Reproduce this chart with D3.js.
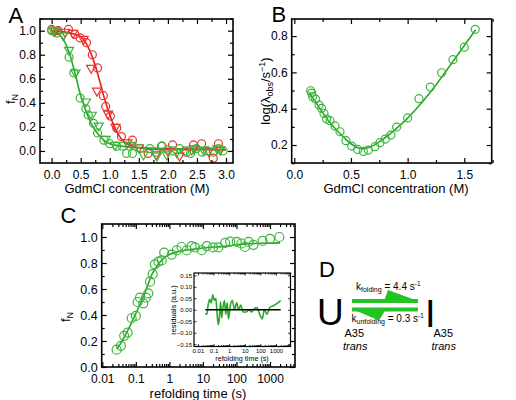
<!DOCTYPE html>
<html><head><meta charset="utf-8">
<script src="https://cdn.jsdelivr.net/npm/d3@7"></script>
<style>
body{margin:0;background:#fff;}
svg{display:block;font-family:"Liberation Sans",Arial,sans-serif;}
</style></head>
<body><svg id="c" width="516" height="400"></svg>
<script>
// ---------- Panel A data ----------
const aRedCircles = [[0,1.01],[0.11,1.0],[0.29,1.01],[0.4,0.97],[0.49,0.94],[0.6,0.9],[0.7,0.8],[0.79,0.69],[0.89,0.46],[0.93,0.37],[1.01,0.29],[1.12,0.19],[1.2,0.12],[1.39,0.09],[1.66,-0.02],[1.89,0.04],[2.08,0.05],[2.32,-0.01],[2.44,0.05],[2.58,0.06],[2.78,-0.06],[2.87,0.06]];
const aRedTriangles = [[0.06,1.0],[0.23,0.99],[0.37,0.98],[0.55,0.93],[0.68,0.69],[0.78,0.5],[0.97,0.31],[1.1,0.2],[1.3,0.07],[1.5,0.03],[1.8,-0.03],[2.0,0.0],[2.2,-0.04],[2.45,0.02],[2.7,0.0],[2.9,0.01]];
const aGreenCircles = [[0,1.0],[0.09,0.98],[0.3,0.78],[0.38,0.65],[0.49,0.44],[0.59,0.35],[0.63,0.3],[0.72,0.23],[0.79,0.15],[0.9,0.09],[1.0,0.06],[1.12,0.04],[1.22,0.04],[1.29,-0.02],[1.39,-0.02],[1.52,0.02],[1.69,0.02],[1.79,-0.01],[1.9,0.04],[2.0,0.01],[2.09,0.0],[2.2,0.02],[2.29,0.0],[2.39,-0.02],[2.49,0.02],[2.59,-0.01],[2.68,0.0],[2.78,-0.01],[2.87,0.02],[2.95,0.0]];
const aGreenTriangles = [[0.03,1.0],[0.2,0.96],[0.3,0.84],[0.41,0.65],[0.59,0.41],[0.69,0.3],[0.81,0.21],[0.93,0.1],[1.09,0.05],[1.38,0.05],[1.58,-0.03],[1.81,-0.04],[1.98,-0.03],[2.15,-0.01],[2.41,0.01],[2.61,0.01],[2.85,0.02]];
const aRedFit = [[0,1.0],[0.2,0.99],[0.4,0.97],[0.5,0.95],[0.6,0.89],[0.7,0.78],[0.8,0.63],[0.9,0.45],[1.0,0.3],[1.1,0.18],[1.2,0.1],[1.3,0.06],[1.4,0.04],[1.6,0.02],[2.0,0.01],[2.5,0.01],[3.0,0.01]];
const aGreenFit = [[0,1.0],[0.1,0.98],[0.2,0.93],[0.3,0.82],[0.4,0.65],[0.5,0.46],[0.6,0.32],[0.7,0.21],[0.8,0.14],[0.9,0.09],[1.0,0.06],[1.2,0.04],[1.4,0.03],[2.0,0.02],[3.0,0.01]];
const aXTicks = [0,0.5,1,1.5,2,2.5,3];
const aYTicks = [0,0.2,0.4,0.6,0.8,1.0];

// ---------- Panel B data ----------
const bPoints = [[0.144,0.499],[0.153,0.486],[0.162,0.466],[0.188,0.453],[0.218,0.42],[0.241,0.402],[0.262,0.374],[0.285,0.343],[0.315,0.334],[0.359,0.305],[0.403,0.273],[0.456,0.224],[0.506,0.194],[0.559,0.176],[0.609,0.165],[0.653,0.172],[0.712,0.191],[0.756,0.213],[0.803,0.233],[0.853,0.255],[0.903,0.299],[1.0,0.349],[1.1,0.455],[1.2,0.519],[1.3,0.598],[1.4,0.67],[1.5,0.739],[1.597,0.837]];
const bFit = [[0.13,0.49],[0.2,0.425],[0.3,0.335],[0.4,0.265],[0.5,0.207],[0.55,0.188],[0.6,0.18],[0.65,0.185],[0.7,0.198],[0.8,0.24],[0.9,0.29],[1.0,0.348],[1.2,0.49],[1.4,0.66],[1.6,0.835]];
const bXTicks = [0,0.5,1,1.5];
const bYTicks = [0.2,0.4,0.6,0.8];

// ---------- Panel C data ----------
const cPoints = [[0.0267,0.133],[0.036,0.163],[0.045,0.24],[0.057,0.265],[0.075,0.375],[0.1,0.393],[0.113,0.5],[0.133,0.533],[0.167,0.49],[0.2,0.533],[0.235,0.566],[0.264,0.656],[0.316,0.714],[0.37,0.79],[0.47,0.81],[0.59,0.82],[0.7,0.88],[1.17,0.865],[1.66,0.898],[2.3,0.923],[3.3,0.898],[4.6,0.93],[5.8,0.92],[9.2,0.898],[13,0.93],[20,0.92],[29,0.92],[46,0.955],[65,0.965],[102,0.962],[140,0.95],[180,0.923],[230,0.962],[320,0.94],[600,0.97],[1000,0.985],[1900,1.0]];
const cFit = [[0.028,0.14],[0.05,0.25],[0.1,0.41],[0.2,0.59],[0.3,0.71],[0.5,0.8],[0.7,0.84],[1,0.865],[2,0.89],[5,0.905],[10,0.915],[50,0.93],[100,0.94],[500,0.952],[2000,0.955]];
const cXTicks = [0.01,0.1,1,10,100,1000];
const cXLabels = ["0.01","0.1","1","10","100","1000"];
const cYTicks = [0,0.2,0.4,0.6,0.8,1.0];
const residuals = [[0.03,-0.015],[0.037,-0.02],[0.045,0.02],[0.056,0.045],[0.07,0.03],[0.09,0.065],[0.11,0.04],[0.14,0.05],[0.17,-0.02],[0.2,-0.065],[0.24,-0.03],[0.28,0.035],[0.33,-0.035],[0.4,0.01],[0.5,0.04],[0.6,-0.02],[0.75,0.03],[0.9,-0.04],[1.2,0.02],[1.6,0.04],[2.2,0.0],[3,0.03],[4,0.0],[5.5,0.02],[8,-0.01],[12,-0.01],[18,0.0],[28,-0.01],[40,0.005],[60,0.01],[90,-0.02],[130,-0.04],[180,0.0],[260,-0.02],[400,0.01],[800,0.02],[2000,0.04]];
const insetXTicks = [0.01,0.1,1,10,100,1000];
const insetXLabels = ["0.01","0.1","1","10","100","1000"];
const insetYTicks = [-0.15,-0.10,-0.05,0,0.05,0.10,0.15];

// ---------- styles ----------
const RED = "#e8322a", RED_LINE = "#e02424";
const GREEN = "#3cb43c", GREEN_LINE = "#2aa82a", ARROW = "#22c322";

const svg = d3.select("#c");

function frame(g, x, y, opts){
  const [x0,x1] = x.range(), [y0,y1] = y.range();
  const fs = opts.fs || 12;
  const tl = opts.tl || 5, tm = opts.tm || 3;
  const bot = d3.axisBottom(x).tickValues(opts.xt).tickSizeInner(-tl).tickSizeOuter(0).tickPadding(opts.xpad||8)
    .tickFormat((d,i)=>opts.xl ? opts.xl[i] : d3.format(opts.xf||".1f")(d));
  const gb = g.append("g").attr("transform",`translate(0,${y0})`).call(bot);
  gb.selectAll("text").attr("font-size",fs).attr("fill","#000").attr("font-family",'"Liberation Sans",Arial,sans-serif');
  const top = d3.axisTop(x).tickValues(opts.xt).tickSizeInner(-tl).tickSizeOuter(0).tickFormat("");
  g.append("g").attr("transform",`translate(0,${y1})`).call(top);
  const left = d3.axisLeft(y).tickValues(opts.yt).tickSizeInner(-tl).tickSizeOuter(0).tickPadding(opts.ypad||4)
    .tickFormat(d=>d3.format(opts.yf||".1f")(d));
  const gl = g.append("g").attr("transform",`translate(${x0},0)`).call(left);
  gl.selectAll("text").attr("font-size",opts.yfs||fs).attr("fill","#000").attr("font-family",'"Liberation Sans",Arial,sans-serif');
  const right = d3.axisRight(y).tickValues(opts.yt).tickSizeInner(-tl).tickSizeOuter(0).tickFormat("");
  g.append("g").attr("transform",`translate(${x1},0)`).call(right);
  if(opts.xm){
    g.append("g").attr("transform",`translate(0,${y0})`).call(d3.axisBottom(x).tickValues(opts.xm).tickSizeInner(-tm).tickSizeOuter(0).tickFormat(""));
    g.append("g").attr("transform",`translate(0,${y1})`).call(d3.axisTop(x).tickValues(opts.xm).tickSizeInner(-tm).tickSizeOuter(0).tickFormat(""));
  }
  if(opts.ym){
    g.append("g").attr("transform",`translate(${x0},0)`).call(d3.axisLeft(y).tickValues(opts.ym).tickSizeInner(-tm).tickSizeOuter(0).tickFormat(""));
    g.append("g").attr("transform",`translate(${x1},0)`).call(d3.axisRight(y).tickValues(opts.ym).tickSizeInner(-tm).tickSizeOuter(0).tickFormat(""));
  }
  g.selectAll(".domain").remove();
  g.selectAll(".tick line").attr("stroke","#000").attr("stroke-width",opts.tw||1.2);
  g.append("rect").attr("x",x0).attr("y",y1).attr("width",x1-x0).attr("height",y0-y1)
    .attr("fill","none").attr("stroke","#000").attr("stroke-width",opts.fw||1.6);
}

function circles(g, data, x, y, color, r){
  g.append("g").selectAll("circle").data(data).join("circle")
    .attr("cx",d=>x(d[0])).attr("cy",d=>y(d[1])).attr("r",r)
    .attr("fill","none").attr("stroke",color).attr("stroke-width",1.2);
}
function triangles(g, data, x, y, color, size){
  const sym = d3.symbol(d3.symbolTriangle).size(size);
  g.append("g").selectAll("path").data(data).join("path")
    .attr("d",sym).attr("transform",d=>`translate(${x(d[0])},${y(d[1])}) rotate(180)`)
    .attr("fill","none").attr("stroke",color).attr("stroke-width",1.2);
}
function fitLine(g, data, x, y, color, w){
  const line = d3.line().x(d=>x(d[0])).y(d=>y(d[1])).curve(d3.curveMonotoneX);
  g.append("path").datum(data).attr("d",line).attr("fill","none").attr("stroke",color).attr("stroke-width",w||1.6);
}
function range(a,b,s){const r=[];for(let v=a;v<=b+1e-9;v+=s)r.push(+v.toFixed(4));return r;}
function logMinor(a,b){const r=[];for(let e=a;e<b;e++)for(let k=2;k<=9;k++)r.push(k*Math.pow(10,e));return r;}

// ---------- Panel A ----------
{
  const x = d3.scaleLinear().domain([-0.2,3.12]).range([40,233]);
  const y = d3.scaleLinear().domain([-0.1,1.097]).range([163,19]);
  const g = svg.append("g");
  fitLine(g, aRedFit, x, y, RED_LINE);
  fitLine(g, aGreenFit, x, y, GREEN_LINE);
  circles(g, aRedCircles, x, y, RED, 4);
  triangles(g, aRedTriangles, x, y, RED, 36);
  circles(g, aGreenCircles, x, y, GREEN, 4);
  triangles(g, aGreenTriangles, x, y, GREEN, 36);
  frame(g, x, y, {xt:aXTicks, yt:aYTicks, xm:range(0.25,2.75,0.5), ym:range(-0.1,1.1,0.2).filter(v=>v>-0.1), xpad:7, ypad:4});
  g.append("text").attr("x",8.5).attr("y",23).attr("font-size",22).text("A");
  g.append("text").attr("x",137).attr("y",193).attr("font-size",13).attr("text-anchor","middle").text("GdmCl concentration (M)");
  const t = g.append("text").attr("transform","translate(15,99) rotate(-90)").attr("font-size",13).attr("text-anchor","middle");
  t.append("tspan").text("f");
  t.append("tspan").attr("font-size",9).attr("dy",3).text("N");
}

// ---------- Panel B ----------
{
  const x = d3.scaleLinear().domain([-0.023,1.742]).range([291.7,491.7]);
  const y = d3.scaleLinear().domain([0.101,0.894]).range([163,19]);
  const g = svg.append("g");
  fitLine(g, bFit, x, y, GREEN_LINE);
  circles(g, bPoints, x, y, GREEN, 4);
  frame(g, x, y, {xt:bXTicks, yt:bYTicks, xm:range(0.25,1.75,0.5), ym:range(0.1,0.9,0.2).filter(v=>v<0.895), xpad:7, ypad:4});
  g.append("text").attr("x",271.5).attr("y",21.7).attr("font-size",22).text("B");
  g.append("text").attr("x",396).attr("y",193).attr("font-size",13).attr("text-anchor","middle").text("GdmCl concentration (M)");
  const t = g.append("text").attr("transform","translate(270,91) rotate(-90)").attr("font-size",13).attr("text-anchor","middle");
  t.append("tspan").text("log(λ");
  t.append("tspan").attr("font-size",9).attr("dy",3).text("obs");
  t.append("tspan").attr("dy",-3).text("/s");
  t.append("tspan").attr("font-size",9).attr("dy",-5).text("−1");
  t.append("tspan").attr("dy",5).text(")");
}

// ---------- Panel C ----------
{
  const x = d3.scaleLog().domain([0.0096,5560]).range([101.7,295]);
  const y = d3.scaleLinear().domain([0,1.1]).range([367,224]);
  const g = svg.append("g");
  fitLine(g, cFit, x, y, GREEN_LINE);
  circles(g, cPoints, x, y, GREEN, 4.5);
  frame(g, x, y, {xt:cXTicks, xl:cXLabels, yt:cYTicks, xm:logMinor(-2,4).filter(v=>v<5560), ym:range(0.1,1.1,0.2).filter(v=>v<1.1), fs:12, yfs:12.5, xpad:7, ypad:4});
  g.append("text").attr("x",60.5).attr("y",222.7).attr("font-size",22).text("C");
  g.append("text").attr("x",198).attr("y",398).attr("font-size",13).attr("text-anchor","middle").text("refolding time (s)");
  const t = g.append("text").attr("transform","translate(70,317) rotate(-90)").attr("font-size",13).attr("text-anchor","middle");
  t.append("tspan").text("f");
  t.append("tspan").attr("font-size",9).attr("dy",3).text("N");

  // inset
  const xi = d3.scaleLog().domain([0.0056,8500]).range([194,290.5]);
  const yi = d3.scaleLinear().domain([-0.16,0.16]).range([346.5,273]);
  const gi = svg.append("g");
  gi.append("rect").attr("x",194).attr("y",273).attr("width",96.5).attr("height",73.5).attr("fill","#fff");
  fitLine(gi, residuals, xi, yi, GREEN_LINE, 1.6);
  gi.append("line").attr("x1",xi(0.03)).attr("x2",xi(2000)).attr("y1",yi(0)).attr("y2",yi(0)).attr("stroke","#000").attr("stroke-width",1.6);
  frame(gi, xi, yi, {xt:insetXTicks, xl:insetXLabels, yt:insetYTicks, yf:".2f", xm:logMinor(-2,4).filter(v=>v<8500), fs:6, tl:2.5, tm:1.5, xpad:2, ypad:2, tw:0.8, fw:1.2});
  gi.append("text").attr("x",242).attr("y",361).attr("font-size",7.2).attr("text-anchor","middle").text("refolding time (s)");
  gi.append("text").attr("transform","translate(176,310) rotate(-90)").attr("font-size",7.5).attr("text-anchor","middle").text("residuals (a.u.)");
}

// ---------- Panel D ----------
{
  const g = svg.append("g");
  g.append("text").attr("x",319).attr("y",276.7).attr("font-size",22).text("D");
  g.append("text").attr("x",317).attr("y",325).attr("font-size",37).text("U");
  g.append("text").attr("x",425).attr("y",326.5).attr("font-size",38).text("I");
  g.append("rect").attr("x",352).attr("y",299).attr("width",66).attr("height",4).attr("fill",ARROW);
  g.append("path").attr("d","M388,290 L418,301 L384,301 Z").attr("fill",ARROW);
  g.append("rect").attr("x",352).attr("y",307.5).attr("width",66).attr("height",4).attr("fill",ARROW);
  g.append("path").attr("d","M352,309 L379,320.5 L386,309 Z").attr("fill",ARROW);
  const k1 = g.append("text").attr("x",356).attr("y",290).attr("font-size",10);
  k1.append("tspan").text("k");
  k1.append("tspan").attr("font-size",7).attr("dy",2).text("folding");
  k1.append("tspan").attr("dy",-2).text(" = 4.4 s");
  k1.append("tspan").attr("font-size",6.5).attr("dy",-4).text("-1");
  const k2 = g.append("text").attr("x",351.5).attr("y",322).attr("font-size",10);
  k2.append("tspan").text("k");
  k2.append("tspan").attr("font-size",7).attr("dy",2).text("unfolding");
  k2.append("tspan").attr("dy",-2).text(" = 0.3 s");
  k2.append("tspan").attr("font-size",6.5).attr("dy",-4).text("-1");
  g.append("text").attr("x",344.5).attr("y",337).attr("font-size",11).text("A35");
  g.append("text").attr("x",343).attr("y",350).attr("font-size",11).attr("font-style","italic").text("trans");
  g.append("text").attr("x",433.5).attr("y",337).attr("font-size",11).text("A35");
  g.append("text").attr("x",431.5).attr("y",350).attr("font-size",11).attr("font-style","italic").text("trans");
}
</script></body></html>
